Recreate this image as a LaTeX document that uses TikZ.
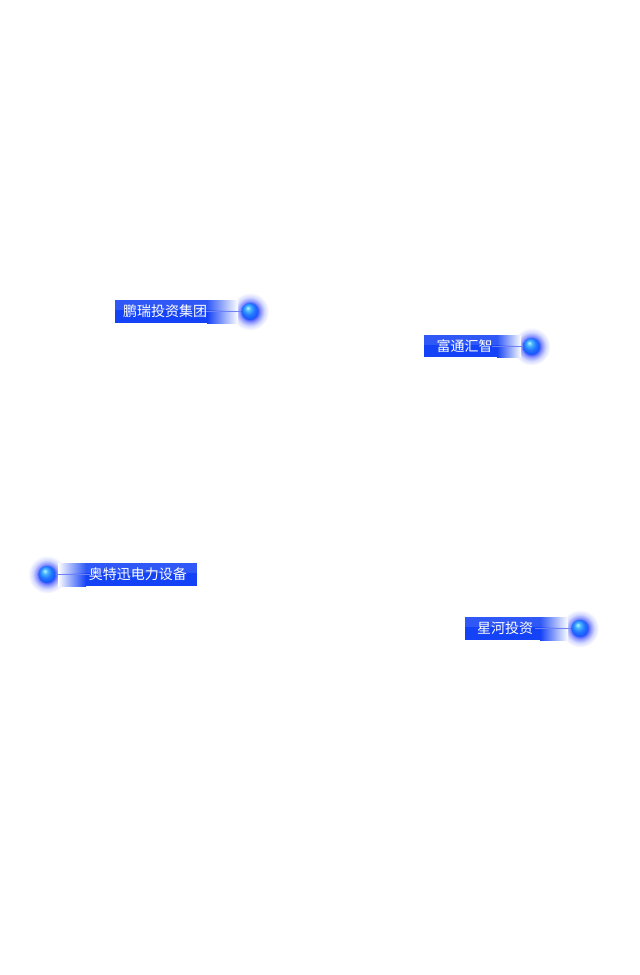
\documentclass[tikz,border=0pt]{standalone}
\usepackage{fontspec}
\newfontfamily\cjk{Noto Sans CJK SC}
\definecolor{barblue}{RGB}{20,66,246}
\definecolor{glowblue}{RGB}{50,70,255}
\definecolor{linecol}{RGB}{110,130,245}
\definecolor{ballhi}{RGB}{190,248,255}
\definecolor{ballmid}{RGB}{70,180,255}
\definecolor{ballbody}{RGB}{35,115,255}
\definecolor{balledge}{RGB}{15,65,245}
\pgfdeclareradialshading{glowsh}{\pgfpoint{0bp}{0bp}}{color(0bp)=(glowblue); color(11bp)=(glowblue!85!white); color(14bp)=(glowblue!55!white); color(19bp)=(glowblue!20!white); color(25bp)=(white); color(50bp)=(white)}
\pgfdeclareradialshading{ballsh}{\pgfpoint{-7bp}{11bp}}{color(0bp)=(ballhi); color(8bp)=(ballmid); color(18bp)=(ballbody); color(36bp)=(balledge); color(50bp)=(balledge)}
\tikzset{
  lbltext/.style={text=white, inner sep=0pt, font=\cjk\fontsize{14}{14}\selectfont},
  glow/.style={shading=glowsh},
  ball/.style={shading=ballsh},
  barsolid/.style={fill=barblue},
  connline/.style={draw=linecol, line width=1.6pt},
}
\begin{document}
\begin{tikzpicture}[x=1pt,y=-1pt]
\useasboundingbox (0,0) rectangle (640,975);
% ---------- label 1 ----------
\shade[glow] (250,311.5) circle (19);
\fill[barsolid] (115,300) rectangle (207,323);
\shade[left color=barblue, right color=white] (207,300) rectangle (238,323);
\fill[white, opacity=0.12] (115,300) rectangle (238,310);
\coordinate (b1s) at (200,311.5);
\node[circle, inner sep=0pt, minimum size=17pt] (ball1) at (250,311.5) {};
\draw[connline] (b1s) -- (ball1.center);
\shade[ball] (ball1.center) circle (8.5);
\node[lbltext, anchor=west] (t1) at (123,311.5) {鹏瑞投资集团};
% ---------- label 2 ----------
\shade[glow] (531.5,346.5) circle (19);
\fill[barsolid] (424,335) rectangle (497,357);
\shade[left color=barblue, right color=white] (497,335) rectangle (521,357);
\fill[white, opacity=0.12] (424,335) rectangle (521,345);
\coordinate (b2s) at (492,346.5);
\node[circle, inner sep=0pt, minimum size=17pt] (ball2) at (531.5,346.5) {};
\draw[connline] (b2s) -- (ball2.center);
\shade[ball] (ball2.center) circle (8.5);
\node[lbltext, anchor=west] (t2) at (436.5,346) {富通汇智};
% ---------- label 3 (mirrored) ----------
\shade[glow] (47,574.5) circle (19);
\fill[barsolid] (86,563) rectangle (197,586);
\shade[left color=white, right color=barblue] (58,563) rectangle (86,586);
\fill[white, opacity=0.12] (58,563) rectangle (197,573);
\coordinate (b3s) at (90,574.5);
\node[circle, inner sep=0pt, minimum size=17pt] (ball3) at (47,574.5) {};
\draw[connline] (b3s) -- (ball3.center);
\shade[ball] (ball3.center) circle (8.5);
\node[lbltext, anchor=east] (t3) at (187,574.5) {奥特迅电力设备};
% ---------- label 4 ----------
\shade[glow] (580,628.5) circle (19);
\fill[barsolid] (465,617) rectangle (540,640);
\shade[left color=barblue, right color=white] (540,617) rectangle (568,640);
\fill[white, opacity=0.12] (465,617) rectangle (568,627);
\coordinate (b4s) at (535,628.5);
\node[circle, inner sep=0pt, minimum size=17pt] (ball4) at (580,628.5) {};
\draw[connline] (b4s) -- (ball4.center);
\shade[ball] (ball4.center) circle (8.5);
\node[lbltext, anchor=west] (t4) at (477,628.5) {星河投资};
\end{tikzpicture}
\end{document}
